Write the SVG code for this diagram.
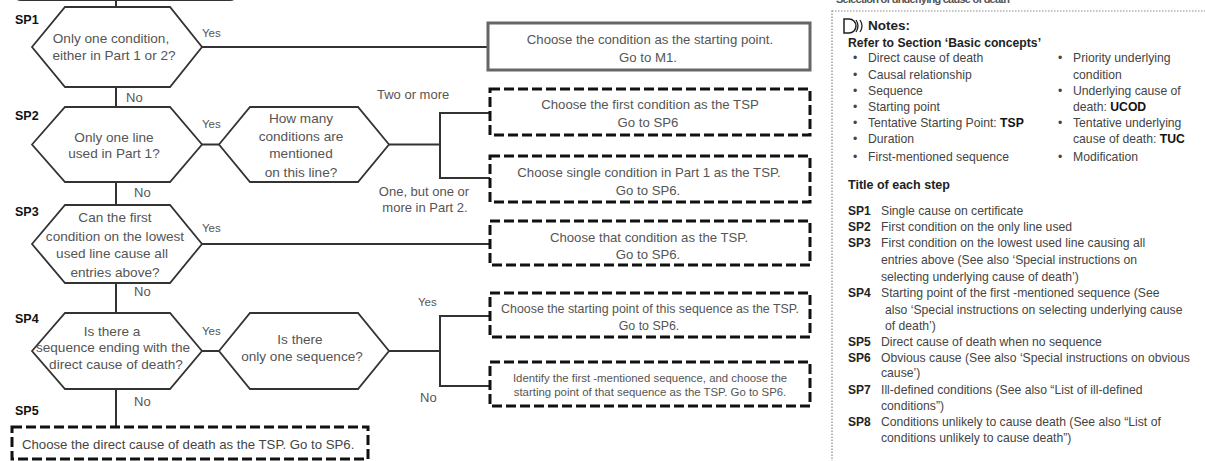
<svg xmlns="http://www.w3.org/2000/svg" width="1205" height="461" viewBox="0 0 1205 461">
<style>
text{font-family:"Liberation Sans",Arial,sans-serif}
.hex{fill:#fff;stroke:#333;stroke-width:1.8}
.q{font-size:13.6px;fill:#555;text-anchor:middle}
.sp{font-size:12.5px;font-weight:bold;fill:#111}
.lbl{font-size:13px;fill:#555}
.y{font-size:11.5px}
.conn line,.conn polyline{stroke:#333;stroke-width:2;fill:none}
.dash{fill:#fff;stroke:#111;stroke-width:3;stroke-dasharray:10 4}
.bt{font-size:13.2px;fill:#555;text-anchor:middle}
.n{font-size:12.2px;fill:#444}
.nb{font-size:12.2px;font-weight:bold;fill:#222}
</style>
<rect width="1205" height="461" fill="#fff"/>
<text x="836" y="3" font-size="11" font-weight="bold" fill="#555" textLength="174">Selection of underlying cause of death</text>
<rect x="13" y="-30" width="225" height="30" rx="8" fill="none" stroke="#333" stroke-width="2"/>

<g class="conn">
<line x1="116" y1="0" x2="116" y2="7"/>
<line x1="202" y1="47" x2="488" y2="47"/>
<line x1="116" y1="87" x2="116" y2="107"/>
<line x1="202" y1="144.5" x2="219" y2="144.5"/>
<line x1="389" y1="144.5" x2="440" y2="144.5"/>
<polyline points="490,113 440,113 440,178 490,178"/>
<line x1="116" y1="182" x2="116" y2="205"/>
<line x1="202" y1="244" x2="490" y2="244"/>
<line x1="116" y1="283" x2="116" y2="313"/>
<line x1="202" y1="351" x2="219" y2="351"/>
<line x1="389" y1="351" x2="440" y2="351"/>
<polyline points="490,316 440,316 440,386 490,386"/>
<line x1="116" y1="389" x2="116" y2="427"/>
</g>

<g id="labels">
<text class="lbl y" x="202" y="37">Yes</text>
<text class="lbl" x="126" y="102">No</text>
<text class="lbl y" x="202" y="128">Yes</text>
<text class="lbl" x="377" y="99">Two or more</text>
<text class="lbl" x="424" y="196" text-anchor="middle">One, but one or</text>
<text class="lbl" x="425" y="212" text-anchor="middle">more in Part 2.</text>
<text class="lbl" x="134" y="197">No</text>
<text class="lbl y" x="202" y="232">Yes</text>
<text class="lbl" x="134" y="296">No</text>
<text class="lbl y" x="202" y="335">Yes</text>
<text class="lbl y" x="418" y="306">Yes</text>
<text class="lbl" x="420" y="402">No</text>
<text class="lbl" x="134" y="406">No</text>
</g>

<g id="sp1">
<text class="sp" x="15" y="24">SP1</text>
<polygon class="hex" points="32,47 65,7 170,7 202,47 170,87 65,87"/>
<text class="q" x="111" y="43">Only one condition,</text>
<text class="q" x="114" y="60">either in Part 1 or 2?</text>
</g>
<g id="m1">
<rect x="488" y="23" width="322" height="47" fill="#fff" stroke="#666" stroke-width="3"/>
<text class="bt" x="650" y="44">Choose the condition as the starting point.</text>
<text class="bt" x="648" y="62">Go to M1.</text>
</g>

<g id="sp2">
<text class="sp" x="15" y="120">SP2</text>
<polygon class="hex" points="32,144.5 65,107 170,107 202,144.5 170,182 65,182"/>
<text class="q" x="114" y="142">Only one line</text>
<text class="q" x="114" y="158">used in Part 1?</text>
</g>
<g id="sp2q">
<polygon class="hex" points="219,144.5 250,107 358,107 389,144.5 358,182 250,182"/>
<text class="q" x="301" y="123">How many</text>
<text class="q" x="301" y="141">conditions  are</text>
<text class="q" x="301" y="158">mentioned</text>
<text class="q" x="301" y="177">on this line?</text>
</g>
<g id="b1">
<rect class="dash" x="490" y="89" width="320" height="46"/>
<text class="bt" x="650" y="109">Choose the first condition as the TSP</text>
<text class="bt" x="648" y="127">Go to SP6</text>
</g>
<g id="b2">
<rect class="dash" x="490" y="156" width="320" height="46"/>
<text class="bt" x="649" y="177">Choose single condition in Part 1 as the TSP.</text>
<text class="bt" x="648" y="195">Go to SP6.</text>
</g>

<g id="sp3">
<text class="sp" x="15" y="216">SP3</text>
<polygon class="hex" points="32,244 65,205 170,205 202,244 170,283 65,283"/>
<text class="q" x="115" y="222">Can the first</text>
<text class="q" x="115" y="241">condition on the lowest</text>
<text class="q" x="112" y="258">used line cause all</text>
<text class="q" x="115" y="277">entries above?</text>
</g>
<g id="b3">
<rect class="dash" x="490" y="221" width="320" height="44"/>
<text class="bt" x="649" y="242">Choose that condition as the TSP.</text>
<text class="bt" x="648" y="259">Go to SP6.</text>
</g>

<g id="sp4">
<text class="sp" x="15" y="323">SP4</text>
<polygon class="hex" points="32,351 65,313 170,313 202,351 170,389 65,389"/>
<text class="q" x="112" y="336">Is there a</text>
<text class="q" x="113" y="352">sequence ending with the</text>
<text class="q" x="116" y="369">direct cause of death?</text>
</g>
<g id="sp4q">
<polygon class="hex" points="219,351 250,313 358,313 389,351 358,389 250,389"/>
<text class="q" x="300" y="344">Is there</text>
<text class="q" x="302" y="361">only one sequence?</text>
</g>
<g id="b4">
<rect class="dash" x="490" y="293" width="320" height="44"/>
<text class="bt" x="650" y="313" style="font-size:12.4px">Choose the starting point of this sequence as the TSP.</text>
<text class="bt" x="649" y="330" style="font-size:12.4px">Go to SP6.</text>
</g>
<g id="b5">
<rect class="dash" x="490" y="362" width="320" height="44"/>
<text class="bt" x="650" y="382" style="font-size:11.4px">Identify the first -mentioned sequence, and choose the</text>
<text class="bt" x="650" y="396" style="font-size:11.4px">starting point of that sequence as the TSP. Go to SP6.</text>
</g>

<g id="sp5">
<text class="sp" x="15" y="415">SP5</text>
<rect class="dash" x="12" y="427" width="356" height="32"/>
<text x="22" y="449" font-size="13.2" fill="#444">Choose the direct cause of death as the TSP. Go to SP6.</text>
</g>

<g id="notes">
<rect x="832" y="11" width="390" height="470" fill="none" stroke="#888" stroke-width="1.2" stroke-dasharray="1.5 1.5"/>
<path d="M844,19 h5 a7,7 0 0 1 0,14 h-5 z" fill="none" stroke="#222" stroke-width="1.5"/>
<path d="M856,20 q4,6 0,12 M860,20 q4,6 0,12" fill="none" stroke="#222" stroke-width="1.3"/>
<text class="nb" x="868" y="30" style="font-size:13.5px">Notes:</text>
<text class="nb" x="848" y="47">Refer to Section ‘Basic concepts’</text>
<g class="n">
<text x="853" y="62">•</text><text x="868" y="62">Direct cause of death</text>
<text x="853" y="79">•</text><text x="868" y="79">Causal relationship</text>
<text x="853" y="95">•</text><text x="868" y="95">Sequence</text>
<text x="853" y="111">•</text><text x="868" y="111">Starting point</text>
<text x="853" y="127">•</text><text x="868" y="127">Tentative Starting Point: <tspan font-weight="bold" fill="#111">TSP</tspan></text>
<text x="853" y="143">•</text><text x="868" y="143">Duration</text>
<text x="853" y="161">•</text><text x="868" y="161">First-mentioned sequence</text>
<text x="1058" y="62">•</text><text x="1073" y="62">Priority underlying</text>
<text x="1073" y="79">condition</text>
<text x="1058" y="95">•</text><text x="1073" y="95">Underlying cause of</text>
<text x="1073" y="111">death: <tspan font-weight="bold" fill="#111">UCOD</tspan></text>
<text x="1058" y="127">•</text><text x="1073" y="127">Tentative underlying</text>
<text x="1073" y="143">cause of death: <tspan font-weight="bold" fill="#111">TUC</tspan></text>
<text x="1058" y="161">•</text><text x="1073" y="161">Modification</text>
</g>
<text class="nb" x="848" y="189" style="font-size:12.5px">Title of each step</text>
<g class="n">
<text class="nb" x="848" y="215" style="font-size:12px">SP1</text><text x="881" y="215">Single cause on certificate</text>
<text class="nb" x="848" y="231" style="font-size:12px">SP2</text><text x="881" y="231">First condition on the only line used</text>
<text class="nb" x="848" y="247" style="font-size:12px">SP3</text><text x="881" y="247">First condition on the lowest used line causing all</text>
<text x="881" y="264">entries above (See also ‘Special instructions on</text>
<text x="881" y="281">selecting underlying cause of death’)</text>
<text class="nb" x="848" y="297" style="font-size:12px">SP4</text><text x="881" y="297">Starting point of the first -mentioned sequence (See</text>
<text x="885" y="314">also ‘Special instructions on selecting underlying cause</text>
<text x="885" y="330">of death’)</text>
<text class="nb" x="848" y="346" style="font-size:12px">SP5</text><text x="881" y="346">Direct cause of death when no sequence</text>
<text class="nb" x="848" y="362" style="font-size:12px">SP6</text><text x="881" y="362">Obvious cause (See also ‘Special instructions on obvious</text>
<text x="881" y="377">cause’)</text>
<text class="nb" x="848" y="394" style="font-size:12px">SP7</text><text x="881" y="394">Ill-defined conditions (See also “List of ill-defined</text>
<text x="881" y="410">conditions”)</text>
<text class="nb" x="848" y="426" style="font-size:12px">SP8</text><text x="881" y="426">Conditions unlikely to cause death (See also “List of</text>
<text x="881" y="442">conditions unlikely to cause death”)</text>
</g>
</g>
</svg>
